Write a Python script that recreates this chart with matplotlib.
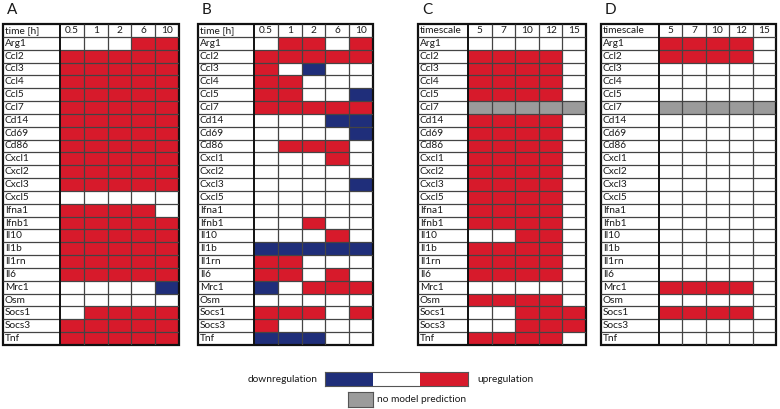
import numpy as np
import matplotlib
matplotlib.use("Agg")
import matplotlib.pyplot as plt
from matplotlib.colors import ListedColormap, BoundaryNorm

plt.rcParams['font.family'] = ['Lato', 'DejaVu Sans']

genes = ["Arg1", "Ccl2", "Ccl3", "Ccl4", "Ccl5", "Ccl7", "Cd14", "Cd69", "Cd86",
         "Cxcl1", "Cxcl2", "Cxcl3", "Cxcl5", "Ifna1", "Ifnb1", "Il10", "Il1b",
         "Il1rn", "Il6", "Mrc1", "Osm", "Socs1", "Socs3", "Tnf"]

cols_time = ["0.5", "1", "2", "6", "10"]
cols_scale = ["5", "7", "10", "12", "15"]

N = np.nan  # no model prediction

# 1 = upregulation, -1 = downregulation, 0 = no change
panel_a = [
    [0, 0, 0, 1, 1], [1, 1, 1, 1, 1], [1, 1, 1, 1, 1], [1, 1, 1, 1, 1],
    [1, 1, 1, 1, 1], [1, 1, 1, 1, 1], [1, 1, 1, 1, 1], [1, 1, 1, 1, 1],
    [1, 1, 1, 1, 1], [1, 1, 1, 1, 1], [1, 1, 1, 1, 1], [1, 1, 1, 1, 1],
    [0, 0, 0, 0, 0], [1, 1, 1, 1, 0], [1, 1, 1, 1, 1], [1, 1, 1, 1, 1],
    [1, 1, 1, 1, 1], [1, 1, 1, 1, 1], [1, 1, 1, 1, 1], [0, 0, 0, 0, -1],
    [0, 0, 0, 0, 0], [0, 1, 1, 1, 1], [1, 1, 1, 1, 1], [1, 1, 1, 1, 1],
]
panel_b = [
    [0, 1, 1, 0, 1], [1, 1, 1, 1, 1], [1, 0, -1, 0, 0], [1, 1, 0, 0, 0],
    [1, 1, 0, 0, -1], [1, 1, 1, 1, 1], [0, 0, 0, -1, -1], [0, 0, 0, 0, -1],
    [0, 1, 1, 1, 0], [0, 0, 0, 1, 0], [0, 0, 0, 0, 0], [0, 0, 0, 0, -1],
    [0, 0, 0, 0, 0], [0, 0, 0, 0, 0], [0, 0, 1, 0, 0], [0, 0, 0, 1, 0],
    [-1, -1, -1, -1, -1], [1, 1, 0, 0, 0], [1, 1, 0, 1, 0], [-1, 0, 1, 1, 1],
    [0, 0, 0, 0, 0], [1, 1, 1, 0, 1], [1, 0, 0, 0, 0], [-1, -1, -1, 0, 0],
]
panel_c = [
    [0, 0, 0, 0, 0], [1, 1, 1, 1, 0], [1, 1, 1, 1, 0], [1, 1, 1, 1, 0],
    [1, 1, 1, 1, 0], [N, N, N, N, N], [1, 1, 1, 1, 0], [1, 1, 1, 1, 0],
    [1, 1, 1, 1, 0], [1, 1, 1, 1, 0], [1, 1, 1, 1, 0], [1, 1, 1, 1, 0],
    [1, 1, 1, 1, 0], [1, 1, 1, 1, 0], [1, 1, 1, 1, 0], [0, 0, 1, 1, 0],
    [1, 1, 1, 1, 0], [1, 1, 1, 1, 0], [1, 1, 1, 1, 0], [0, 0, 0, 0, 0],
    [1, 1, 1, 1, 0], [0, 0, 1, 1, 1], [0, 0, 1, 1, 1], [1, 1, 1, 1, 0],
]
panel_d = [
    [1, 1, 1, 1, 0], [1, 1, 1, 1, 0], [0, 0, 0, 0, 0], [0, 0, 0, 0, 0],
    [0, 0, 0, 0, 0], [N, N, N, N, N], [0, 0, 0, 0, 0], [0, 0, 0, 0, 0],
    [0, 0, 0, 0, 0], [0, 0, 0, 0, 0], [0, 0, 0, 0, 0], [0, 0, 0, 0, 0],
    [0, 0, 0, 0, 0], [0, 0, 0, 0, 0], [0, 0, 0, 0, 0], [0, 0, 0, 0, 0],
    [0, 0, 0, 0, 0], [0, 0, 0, 0, 0], [0, 0, 0, 0, 0], [1, 1, 1, 1, 0],
    [0, 0, 0, 0, 0], [1, 1, 1, 1, 0], [0, 0, 0, 0, 0], [0, 0, 0, 0, 0],
]

RED = '#D71A2B'
BLUE = '#1F2E7A'
GRAY = '#9B9B9B'
cmap = ListedColormap([BLUE, 'white', RED, GRAY])
norm = BoundaryNorm([-1.5, -0.5, 0.5, 1.5, 2.5], cmap.N)

W, H = 780, 409
fig = plt.figure(figsize=(W / 100, H / 100), dpi=100)

TOP, BOT = 24, 345
panels = [
    ("A", "time [h]", cols_time, panel_a, (3, 60, 179)),
    ("B", "time [h]", cols_time, panel_b, (198, 254, 373)),
    ("C", "timescale", cols_scale, panel_c, (418, 468, 586)),
    ("D", "timescale", cols_scale, panel_d, (601, 659, 776)),
]

FS = 7.3
TC = '#1a1a1a'
for letter, head, cols, data, (l, m, r) in panels:
    ax = fig.add_axes([l / W, 1 - BOT / H, (r - l) / W, (BOT - TOP) / H])
    ncol = len(cols)
    nrow = len(genes) + 1
    colw = (r - m) / ncol
    L = (m - l) / colw
    arr = np.array(data, dtype=float)
    arr = np.where(np.isnan(arr), 2, arr)
    xe = np.arange(ncol + 1)
    ye = np.arange(1, nrow + 1)
    ax.pcolormesh(xe, ye, arr, cmap=cmap, norm=norm)
    ax.set_xlim(-L, ncol)
    ax.set_ylim(nrow, 0)
    ax.axis('off')
    # grid lines
    ax.hlines(np.arange(1, nrow), -L, ncol, color='#444444', lw=0.9)
    ax.vlines(np.arange(1, ncol), 0, nrow, color='#444444', lw=0.9)
    ax.vlines([0], 0, nrow, color='#111111', lw=1.4)
    ax.add_patch(plt.Rectangle((-L, 0), L + ncol, nrow, fill=False,
                               ec='#111111', lw=1.6, clip_on=False))
    # header
    ax.text(-L + 0.08, 0.5, head, ha='left', va='center', fontsize=FS, color=TC)
    for j, c in enumerate(cols):
        ax.text(j + 0.5, 0.5, c, ha='center', va='center', fontsize=FS, color=TC)
    for i, g in enumerate(genes):
        ax.text(-L + 0.08, i + 1.5, g, ha='left', va='center', fontsize=FS, color=TC)
    fig.text((l + 4) / W, 1 - 10 / H, letter, ha='left', va='center', fontsize=11, color=TC)

# legend colour bar
lax = fig.add_axes([325 / W, 1 - 386 / H, (468 - 325) / W, (386 - 372) / H])
lax.pcolormesh(np.arange(4), [0, 1], np.array([[-1, 0, 1]]), cmap=cmap, norm=norm)
lax.set_xlim(0, 3)
lax.set_ylim(0, 1)
lax.set_xticks([])
lax.set_yticks([])
for s in lax.spines.values():
    s.set_color('#555555')
    s.set_linewidth(0.8)
fig.text(318 / W, 1 - 379 / H, "downregulation", ha='right', va='center', fontsize=FS, color=TC)
fig.text(477 / W, 1 - 379 / H, "upregulation", ha='left', va='center', fontsize=FS, color=TC)

gax = fig.add_axes([348 / W, 1 - 407 / H, (373 - 348) / W, (407 - 392) / H])
gax.pcolormesh([0, 1], [0, 1], np.array([[2]]), cmap=cmap, norm=norm)
gax.set_xticks([])
gax.set_yticks([])
for s in gax.spines.values():
    s.set_color('#555555')
    s.set_linewidth(0.8)
fig.text(377 / W, 1 - 399.5 / H, "no model prediction", ha='left', va='center', fontsize=FS, color=TC)

fig.savefig("out.png", dpi=100)
